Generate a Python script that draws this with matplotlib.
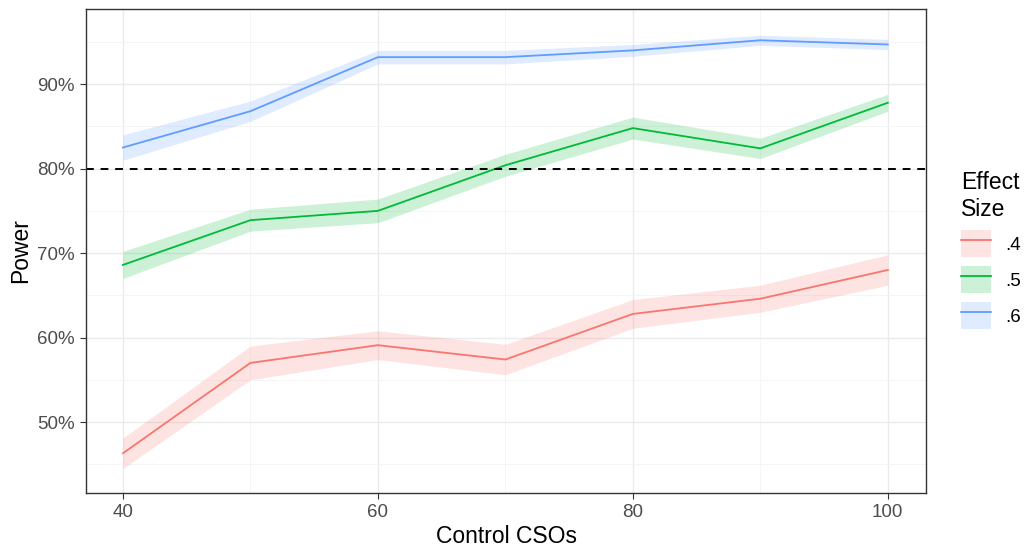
import numpy as np
import matplotlib.pyplot as plt
from matplotlib.patches import Patch
from matplotlib.lines import Line2D
from matplotlib.ticker import FuncFormatter, MultipleLocator

plt.rcParams['font.family'] = ['Liberation Sans', 'DejaVu Sans']

# Data
control_csos = [40, 50, 60, 70, 80, 90, 100]
effect_sizes = ['.4', '.5', '.6']
power = {
    '.4': [46.3, 57.0, 59.1, 57.4, 62.8, 64.6, 68.0],
    '.5': [68.6, 73.9, 75.0, 80.4, 84.8, 82.4, 87.8],
    '.6': [82.5, 86.8, 93.2, 93.2, 94.0, 95.2, 94.7],
}
half_width = {
    '.4': [1.8, 2.0, 1.7, 1.8, 1.7, 1.6, 1.8],
    '.5': [1.6, 1.3, 1.4, 1.3, 1.3, 1.2, 1.0],
    '.6': [1.5, 1.2, 0.8, 0.8, 0.7, 0.6, 0.6],
}
colors = {'.4': '#F8766D', '.5': '#00BA38', '.6': '#619CFF'}
target = 80

fig = plt.figure(figsize=(10.27, 5.52), dpi=100)
ax = fig.add_axes([0.0837, 0.1069, 0.818, 0.8768])

x = np.array(control_csos)
handles = []
for es in effect_sizes:
    y = np.array(power[es])
    hw = np.array(half_width[es])
    ax.fill_between(x, y - hw, y + hw, color=colors[es], alpha=0.2, lw=0)
    ax.plot(x, y, color=colors[es], lw=1.3)
    handles.append((Patch(facecolor=colors[es], alpha=0.2, lw=0),
                    Line2D([], [], color=colors[es], lw=1.3)))

ax.axhline(target, color='black', ls=(0, (4, 3.5)), lw=1.4)

# ggplot theme_bw look
ax.set_xlim(37.1, 103)
ax.set_ylim(41.6, 98.9)
ax.xaxis.set_major_locator(MultipleLocator(20))
ax.xaxis.set_minor_locator(MultipleLocator(10))
ax.yaxis.set_major_locator(MultipleLocator(10))
ax.yaxis.set_minor_locator(MultipleLocator(5))
ax.yaxis.set_major_formatter(FuncFormatter(lambda v, p: f'{v:.0f}%'))
ax.grid(which='major', color='#EBEBEB', lw=1.0)
ax.grid(which='minor', color='#F4F4F4', lw=0.6)
ax.set_axisbelow(True)
for s in ax.spines.values():
    s.set_color('#333333')
    s.set_linewidth(1.0)
ax.tick_params(which='major', length=4, color='#333333', labelcolor='#4D4D4D',
               labelsize=13.5, pad=4)
ax.tick_params(which='minor', length=0)

ax.set_xlabel('Control CSOs', fontsize=16.5, color='black', labelpad=3)
ax.set_ylabel('Power', fontsize=16.5, color='black', labelpad=4)

leg = fig.legend(handles, effect_sizes, title='Effect\nSize',
                 loc='upper left', bbox_to_anchor=(0.919, 0.72),
                 frameon=False, fontsize=13.5, title_fontsize=16.5,
                 handlelength=1.6, handleheight=1.8, labelspacing=0.5,
                 handletextpad=0.8)
leg._legend_box.align = 'left'

fig.savefig('out.png', dpi=100)
